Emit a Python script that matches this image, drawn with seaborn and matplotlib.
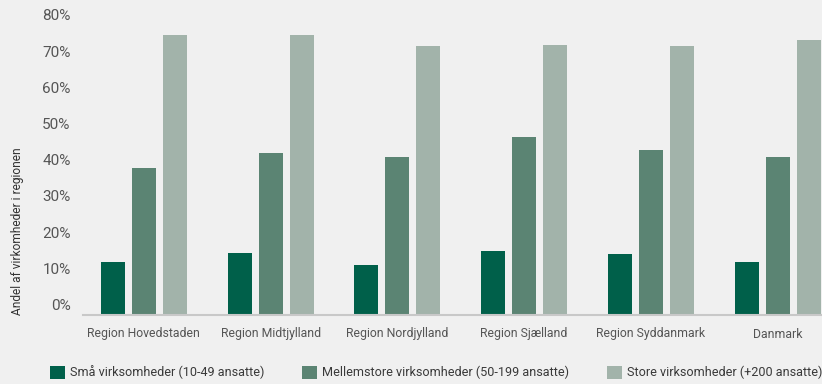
import matplotlib
matplotlib.use("Agg")
import matplotlib.pyplot as plt
import matplotlib.transforms as mtransforms
import seaborn as sns
import pandas as pd

regions = ["Region Hovedstaden", "Region Midtjylland", "Region Nordjylland",
           "Region Sjælland", "Region Syddanmark", "Danmark"]
series_names = ["Små virksomheder (10-49 ansatte)",
                "Mellemstore virksomheder (50-199 ansatte)",
                "Store virksomheder (+200 ansatte)"]
small = [14.6, 17.1, 13.8, 17.7, 16.9, 14.6]
medium = [40.6, 44.8, 43.7, 49.2, 45.6, 43.7]
large = [77.4, 77.4, 74.3, 74.6, 74.3, 76.0]
yticks = [0, 10, 20, 30, 40, 50, 60, 70, 80]
ylabel = "Andel af virkomheder i regionen"

colors = ["#00604a", "#5b8473", "#a2b3aa"]
bg = "#f0f0f0"

rows = []
for name, vals in zip(series_names, [small, medium, large]):
    for r, v in zip(regions, vals):
        rows.append({"region": r, "serie": name, "value": v})
df = pd.DataFrame(rows)

sns.set_theme(style="white")
plt.rcParams["font.family"] = ["Roboto", "DejaVu Sans"]

fig = plt.figure(figsize=(8.22, 3.84), dpi=100, facecolor=bg)
ax = fig.add_axes([83 / 822, 69 / 384, 1 - 83 / 822, 305 / 384])
ax.set_facecolor(bg)

sns.barplot(data=df, x="region", y="value", hue="serie", order=regions,
            hue_order=series_names, palette=colors, saturation=1,
            width=0.733, gap=0.226, errorbar=None, ax=ax, linewidth=0)

ax.set_xlim(-0.48, 5.35)
ax.set_ylim(0, 84.28)
ax.set_yticks(yticks)
ax.set_yticklabels([f"{t}%" for t in yticks])
ax.set_xlabel("")
ax.set_ylabel("")
for s in ["top", "right", "left"]:
    ax.spines[s].set_visible(False)
ax.spines["bottom"].set_color("#c8c8c8")
ax.spines["bottom"].set_linewidth(1.5)
ax.tick_params(axis="y", length=0, pad=9, labelsize=11, labelcolor="#555555")
ax.tick_params(axis="x", length=0, pad=9, labelsize=8.8, labelcolor="#555555")

off = mtransforms.ScaledTranslation(0, 0.105, fig.dpi_scale_trans)
for lab in ax.get_yticklabels():
    lab.set_transform(lab.get_transform() + off)

fig.text(18 / 822, 1 - 231 / 384, ylabel, rotation=90, ha="center", va="center",
         fontsize=8.6, color="#333333")

handles, labels = ax.get_legend_handles_labels()
ax.get_legend().remove()
fig.legend(handles, labels, loc="center left",
           bbox_to_anchor=(50 / 822, 1 - 372.5 / 384), ncol=3, frameon=False,
           fontsize=9.1, borderpad=0, borderaxespad=0, handlelength=1.19,
           handleheight=1.19, handletextpad=0.4, columnspacing=3.0,
           labelcolor="#3a3a3a")

fig.savefig("out.png", dpi=100, facecolor=bg)
